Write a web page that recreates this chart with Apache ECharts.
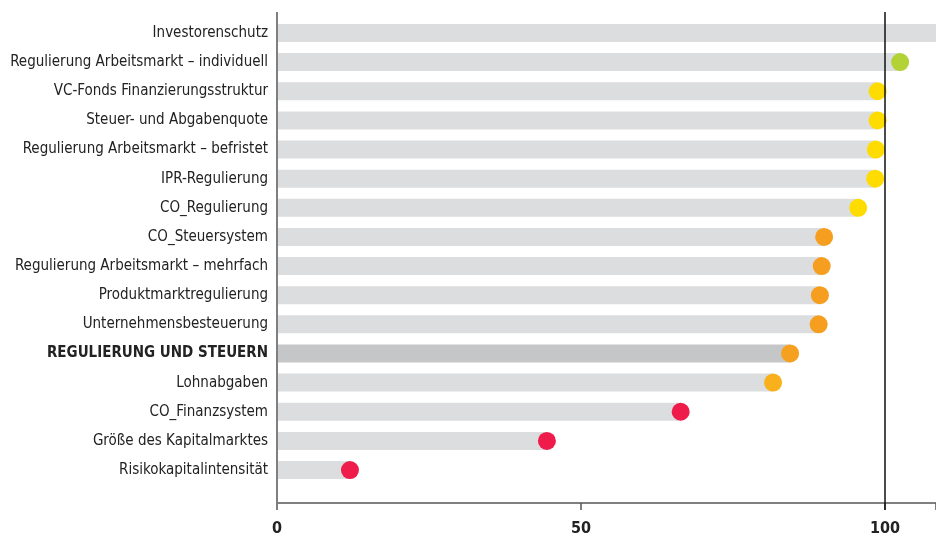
<!DOCTYPE html>
<html>
<head>
<meta charset="utf-8">
<script src="https://cdn.jsdelivr.net/npm/echarts@6/dist/echarts.min.js"></script>
<style>
html,body{margin:0;padding:0;background:#fff;}
#chart{width:936px;height:540px;}
</style>
</head>
<body>
<div id="chart"></div>
<script>
const categories = [
  "Investorenschutz",
  "Regulierung Arbeitsmarkt – individuell",
  "VC-Fonds Finanzierungsstruktur",
  "Steuer- und Abgabenquote",
  "Regulierung Arbeitsmarkt – befristet",
  "IPR-Regulierung",
  "CO_Regulierung",
  "CO_Steuersystem",
  "Regulierung Arbeitsmarkt – mehrfach",
  "Produktmarktregulierung",
  "Unternehmensbesteuerung",
  "REGULIERUNG UND STEUERN",
  "Lohnabgaben",
  "CO_Finanzsystem",
  "Größe des Kapitalmarktes",
  "Risikokapitalintensität"
];
const values = [115, 102.5, 98.8, 98.8, 98.5, 98.4, 95.6, 90.0, 89.6, 89.3, 89.1, 84.4, 81.6, 66.4, 44.4, 12.0];
const highlightCategory = "REGULIERUNG UND STEUERN";
const xTicks = [0, 50, 100];
const referenceValue = 100;

const FONT = '"DejaVu Sans Condensed", "Liberation Sans Narrow", "Arial Narrow", sans-serif';
const XMAX = 108.4;

function dotColor(v, name) {
  if (v > 100) return '#b2d235';
  if (v >= 95) return '#ffdc00';
  if (name === highlightCategory) return '#f6a01f';
  if (v >= 85) return '#f59e1f';
  if (v >= 75) return '#f8b01b';
  return '#ee1b4b';
}

const chart = echarts.init(document.getElementById('chart'), null, {renderer: 'canvas'});
chart.setOption({
  animation: false,
  backgroundColor: '#ffffff',
  grid: [
    {left: 277, right: 0, top: 18.4, bottom: 55.4, containLabel: false, outerBoundsMode: 'none'},
    {left: 277, right: 0, top: 12, bottom: 30, containLabel: false, outerBoundsMode: 'none'}
  ],
  xAxis: [
    {
      type: 'value', gridIndex: 0, min: 0, max: XMAX, interval: 50,
      offset: 18.4,
      splitLine: {show: false},
      axisLine: {show: true, lineStyle: {color: '#7f7f7f', width: 2}},
      axisTick: {show: true, inside: false, length: 7, lineStyle: {color: '#555', width: 1.5}},
      axisLabel: {
        margin: 18, color: '#222', fontFamily: FONT, fontWeight: 'bold', fontSize: 16,
        customValues: xTicks
      }
    },
    {type: 'value', gridIndex: 1, min: 0, max: XMAX, show: false}
  ],
  yAxis: [
    {
      type: 'category', gridIndex: 0, data: categories, inverse: true,
      axisLine: {show: false}, axisTick: {show: false}, splitLine: {show: false},
      axisLabel: {
        margin: 9, color: '#222', fontFamily: FONT, fontSize: 15,
        formatter: function (v) { return v === highlightCategory ? '{b|' + v + '}' : v; },
        rich: {b: {fontWeight: 'bold', fontFamily: FONT, fontSize: 15, color: '#222'}}
      }
    },
    {type: 'value', gridIndex: 1, min: 0, max: 1, show: false}
  ],
  series: [
    {
      type: 'bar', xAxisIndex: 0, yAxisIndex: 0, barWidth: 18, clip: true,
      data: values.map((v, i) => ({
        value: v,
        itemStyle: {color: categories[i] === highlightCategory ? '#c5c6c8' : '#dcdddf'}
      })),
      silent: true, z: 1
    },
    {
      type: 'scatter', xAxisIndex: 0, yAxisIndex: 0, symbol: 'circle', symbolSize: 18, clip: true,
      data: values.map((v, i) => ({
        value: [v, categories[i]],
        itemStyle: {color: dotColor(v, categories[i]), opacity: 1}
      })),
      itemStyle: {opacity: 1},
      silent: true, z: 3
    },
    {
      type: 'line', xAxisIndex: 1, yAxisIndex: 1, data: [], silent: true, z: 4,
      markLine: {
        symbol: 'none', silent: true, animation: false,
        label: {show: false},
        data: [
          {xAxis: 0, lineStyle: {color: '#7f7f7f', width: 2, type: 'solid'}},
          {xAxis: referenceValue, lineStyle: {color: '#111', width: 1.5, type: 'solid'}}
        ]
      }
    }
  ]
});
</script>
</body>
</html>
